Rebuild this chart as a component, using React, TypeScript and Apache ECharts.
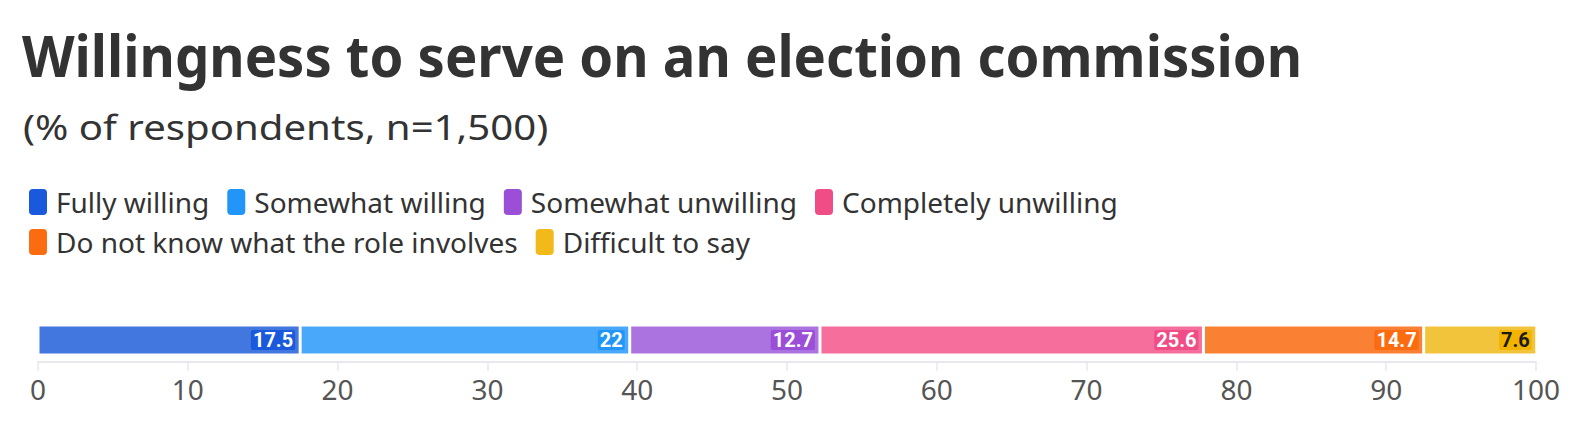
import React, { useEffect, useRef } from "react";
import * as echarts from "echarts";

const titleText = "Willingness to serve on an election commission";
const subtitleText = "(% of respondents, n=1,500)";
const categories = ["Respondents"];
const seriesNames = [
  "Fully willing",
  "Somewhat willing",
  "Somewhat unwilling",
  "Completely unwilling",
  "Do not know what the role involves",
  "Difficult to say",
];
const seriesValues = [17.5, 22, 12.7, 25.6, 14.7, 7.6];
const legendColors = ["#1a58dc", "#2196f8", "#9b4fd6", "#f04d87", "#fb6b10", "#f2b91a"];
const barColors = ["#4377e0", "#4aa8fb", "#ab73e0", "#f56e9c", "#fa8033", "#f2c43b"];
const labelBg = ["#1a58dc", "#2196f8", "#9b4fd6", "#f04d87", "#fb6b10", "#f2b400"];
const labelColors = ["#ffffff", "#ffffff", "#ffffff", "#ffffff", "#ffffff", "#1a1a1a"];
const xTicks = { min: 0, max: 100, interval: 10 };

export default function App() {
  const ref = useRef<HTMLDivElement>(null);
  useEffect(() => {
    document.body.style.margin = "0";
    if (!ref.current) return;
    const chart = echarts.init(ref.current, null, { renderer: "svg" });
    const font = "'Noto Sans', sans-serif";
    chart.setOption({
      animation: false,
      backgroundColor: "#ffffff",
      graphic: [
        {
          type: "text",
          x: 22,
          y: 54,
          scaleX: 0.938,
          style: {
            text: titleText,
            fontFamily: font,
            fontSize: 58,
            fontWeight: "bold",
            fill: "#333333",
            verticalAlign: "middle",
            align: "left",
          },
        },
        {
          type: "text",
          x: 23,
          y: 127,
          scaleX: 1.147,
          style: {
            text: subtitleText,
            fontFamily: font,
            fontSize: 35,
            fill: "#333333",
            verticalAlign: "middle",
            align: "left",
          },
        },
      ],
      legend: {
        left: 22,
        right: 20,
        top: 182,
        icon: "roundRect",
        itemWidth: 20,
        itemHeight: 28,
        itemGap: 10,
        textStyle: {
          fontFamily: font,
          fontSize: 28,
          lineHeight: 28,
          color: "#333333",
          padding: [0, 6, 0, 3],
        },
        data: seriesNames.map((n, i) => ({ name: n, itemStyle: { color: legendColors[i] } })),
      },
      grid: { left: 38, right: 54, top: 318, bottom: 68, containLabel: false },
      xAxis: {
        type: "value",
        min: xTicks.min,
        max: xTicks.max,
        interval: xTicks.interval,
        axisLine: { show: true, lineStyle: { color: "#e8e8ee", width: 2 } },
        axisTick: { show: true, length: 9, lineStyle: { color: "#e8e8ee", width: 1.5 } },
        splitLine: { show: false },
        axisLabel: { fontFamily: font, fontSize: 28, color: "#555555", margin: 13 },
      },
      yAxis: {
        type: "category",
        data: categories,
        show: false,
      },
      series: seriesNames.map((n, i) => ({
        name: n,
        type: "bar",
        stack: "total",
        barWidth: 30,
        data: [seriesValues[i]],
        itemStyle: { color: barColors[i], borderColor: "#ffffff", borderWidth: 1.5 },
        label: {
          show: true,
          position: "insideRight",
          distance: 5,
          formatter: "{c}",
          fontFamily: "Roboto, sans-serif",
          fontWeight: "bold",
          fontSize: 20,
          lineHeight: 18,
          color: labelColors[i],
          backgroundColor: labelBg[i],
          padding: [1, 2, 1, 2],
          borderRadius: 2,
        },
      })),
    });
    return () => chart.dispose();
  }, []);
  return <div ref={ref} style={{ width: 1590, height: 430 }} />;
}
